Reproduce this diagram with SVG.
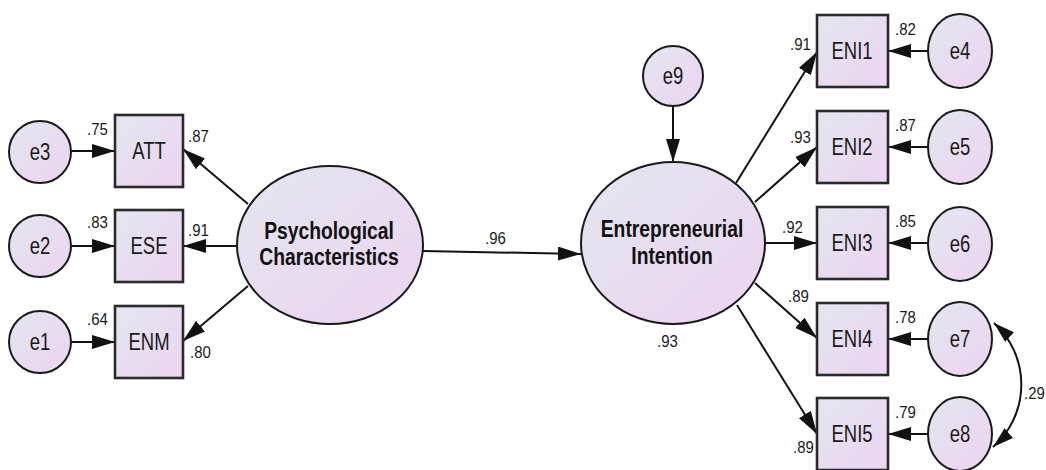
<svg xmlns="http://www.w3.org/2000/svg" width="1046" height="470" viewBox="0 0 1046 470">
  <defs>
    <linearGradient id="fillGrad" x1="0" y1="0" x2="1" y2="1">
      <stop offset="0" stop-color="#e3e6ef"/>
      <stop offset="1" stop-color="#ecd4f1"/>
    </linearGradient>
    <marker id="arrow" markerUnits="userSpaceOnUse" markerWidth="24" markerHeight="14" refX="23" refY="7" orient="auto">
      <path d="M0,0 L23,7 L0,14 z" fill="#111"/>
    </marker>
    <marker id="arrowSmall" markerUnits="userSpaceOnUse" markerWidth="22" markerHeight="13" refX="21" refY="6.5" orient="auto-start-reverse">
      <path d="M0,0 L21,6.5 L0,13 z" fill="#111"/>
    </marker>
  </defs>
  <style>
    .box { fill: url(#fillGrad); stroke: #2a2a2a; stroke-width: 2.6; }
    .ell { fill: url(#fillGrad); stroke: #1a1a1a; stroke-width: 2; }
    .txt { font-family: "Liberation Sans", Arial, sans-serif; font-size: 18.5px; fill: #1a1a1a; text-anchor: middle; }
    .big { font-weight: bold; font-size: 19.3px; fill: #111; }
    .num { font-family: "Liberation Sans", Arial, sans-serif; font-size: 15px; fill: #1a1a1a; }
    .path { stroke: #111; stroke-width: 2; fill: none; marker-end: url(#arrow); }
    .cov { stroke: #111; stroke-width: 2; fill: none; marker-start: url(#arrowSmall); marker-end: url(#arrowSmall); }
  </style>

  <rect width="1046" height="470" fill="#ffffff"/>

  <!-- connectors -->
  <g id="connectors">
    <!-- left error terms to indicators -->
    <line class="path" x1="71" y1="151" x2="115" y2="151"/>
    <line class="path" x1="71" y1="246" x2="115" y2="246"/>
    <line class="path" x1="71" y1="342" x2="115" y2="342"/>
    <!-- psychological characteristics to indicators -->
    <line class="path" x1="248" y1="204" x2="183" y2="149"/>
    <line class="path" x1="237" y1="246" x2="183" y2="246"/>
    <line class="path" x1="248" y1="286" x2="183" y2="341"/>
    <!-- structural path -->
    <line class="path" x1="423" y1="251" x2="581" y2="254"/>
    <!-- disturbance -->
    <line class="path" x1="673" y1="106" x2="673" y2="162"/>
    <!-- entrepreneurial intention to indicators -->
    <line class="path" x1="736" y1="183" x2="817" y2="52"/>
    <line class="path" x1="755" y1="202" x2="817" y2="147"/>
    <line class="path" x1="765" y1="243" x2="817" y2="243"/>
    <line class="path" x1="755" y1="283" x2="817" y2="338"/>
    <line class="path" x1="737" y1="305" x2="817" y2="434"/>
    <!-- right error terms to indicators -->
    <line class="path" x1="928" y1="51" x2="888" y2="51"/>
    <line class="path" x1="928" y1="147" x2="888" y2="147"/>
    <line class="path" x1="928" y1="243" x2="888" y2="243"/>
    <line class="path" x1="928" y1="339" x2="888" y2="339"/>
    <line class="path" x1="928" y1="434" x2="888" y2="434"/>
    <!-- error covariance e7 - e8 -->
    <path class="cov" d="M994,323 A83,83 0 0 1 993,447"/>
  </g>

  <!-- path coefficients and squared multiple correlations -->
  <g id="estimates" class="num">
    <text transform="translate(87,135) scale(1,1.12)">.75</text>
    <text transform="translate(87,228) scale(1,1.12)">.83</text>
    <text transform="translate(87,325) scale(1,1.12)">.64</text>
    <text transform="translate(188,142) scale(1,1.12)">.87</text>
    <text transform="translate(188,236) scale(1,1.12)">.91</text>
    <text transform="translate(190,358) scale(1,1.12)">.80</text>
    <text transform="translate(485,244) scale(1,1.12)">.96</text>
    <text transform="translate(657,347) scale(1,1.12)">.93</text>
    <text transform="translate(790,50) scale(1,1.12)">.91</text>
    <text transform="translate(790,143) scale(1,1.12)">.93</text>
    <text transform="translate(782,233) scale(1,1.12)">.92</text>
    <text transform="translate(788,302) scale(1,1.12)">.89</text>
    <text transform="translate(793,453) scale(1,1.12)">.89</text>
    <text transform="translate(895,35) scale(1,1.12)">.82</text>
    <text transform="translate(895,131) scale(1,1.12)">.87</text>
    <text transform="translate(895,227) scale(1,1.12)">.85</text>
    <text transform="translate(895,323) scale(1,1.12)">.78</text>
    <text transform="translate(895,418) scale(1,1.12)">.79</text>
    <text transform="translate(1024,399) scale(1,1.12)">.29</text>
  </g>

  <!-- left error terms -->
  <g id="e3"><ellipse class="ell" cx="40" cy="152" rx="31" ry="31"/><text class="txt" transform="translate(40,160) scale(1,1.25)">e3</text></g>
  <g id="e2"><ellipse class="ell" cx="40" cy="246" rx="31" ry="31"/><text class="txt" transform="translate(40,254) scale(1,1.25)">e2</text></g>
  <g id="e1"><ellipse class="ell" cx="40" cy="342" rx="31" ry="31"/><text class="txt" transform="translate(40,350) scale(1,1.25)">e1</text></g>

  <!-- left indicators -->
  <g id="ATT"><rect class="box" x="115" y="115" width="68" height="72"/><text class="txt" transform="translate(149,159) scale(1,1.25)">ATT</text></g>
  <g id="ESE"><rect class="box" x="115" y="210" width="68" height="72"/><text class="txt" transform="translate(149,254) scale(1,1.25)">ESE</text></g>
  <g id="ENM"><rect class="box" x="115" y="306" width="68" height="72"/><text class="txt" transform="translate(149,350) scale(1,1.25)">ENM</text></g>

  <!-- latent: psychological characteristics -->
  <g id="PsychologicalCharacteristics">
    <ellipse class="ell" cx="330" cy="245" rx="93" ry="79"/>
    <text class="txt big" transform="translate(329,239) scale(1,1.2)">Psychological</text>
    <text class="txt big" transform="translate(329,265) scale(1,1.2)">Characteristics</text>
  </g>

  <!-- latent: entrepreneurial intention -->
  <g id="EntrepreneurialIntention">
    <ellipse class="ell" cx="673" cy="243" rx="92" ry="81"/>
    <text class="txt big" transform="translate(672,237) scale(1,1.2)">Entrepreneurial</text>
    <text class="txt big" transform="translate(672,264) scale(1,1.2)">Intention</text>
  </g>

  <!-- disturbance e9 -->
  <g id="e9"><ellipse class="ell" cx="673" cy="76" rx="30" ry="30"/><text class="txt" transform="translate(673,84) scale(1,1.25)">e9</text></g>

  <!-- right indicators -->
  <g id="ENI1"><rect class="box" x="817" y="15" width="71" height="72"/><text class="txt" transform="translate(852,59) scale(1,1.25)">ENI1</text></g>
  <g id="ENI2"><rect class="box" x="817" y="111" width="71" height="72"/><text class="txt" transform="translate(852,155) scale(1,1.25)">ENI2</text></g>
  <g id="ENI3"><rect class="box" x="817" y="207" width="71" height="72"/><text class="txt" transform="translate(852,251) scale(1,1.25)">ENI3</text></g>
  <g id="ENI4"><rect class="box" x="817" y="303" width="71" height="72"/><text class="txt" transform="translate(852,347) scale(1,1.25)">ENI4</text></g>
  <g id="ENI5"><rect class="box" x="817" y="398" width="71" height="72"/><text class="txt" transform="translate(852,442) scale(1,1.25)">ENI5</text></g>

  <!-- right error terms -->
  <g id="e4"><ellipse class="ell" cx="960" cy="51" rx="32" ry="37"/><text class="txt" transform="translate(960,59) scale(1,1.25)">e4</text></g>
  <g id="e5"><ellipse class="ell" cx="960" cy="147" rx="32" ry="37"/><text class="txt" transform="translate(960,155) scale(1,1.25)">e5</text></g>
  <g id="e6"><ellipse class="ell" cx="960" cy="244" rx="32" ry="37"/><text class="txt" transform="translate(960,252) scale(1,1.25)">e6</text></g>
  <g id="e7"><ellipse class="ell" cx="960" cy="339" rx="32" ry="37"/><text class="txt" transform="translate(960,347) scale(1,1.25)">e7</text></g>
  <g id="e8"><ellipse class="ell" cx="960" cy="434" rx="32" ry="37"/><text class="txt" transform="translate(960,442) scale(1,1.25)">e8</text></g>
</svg>
